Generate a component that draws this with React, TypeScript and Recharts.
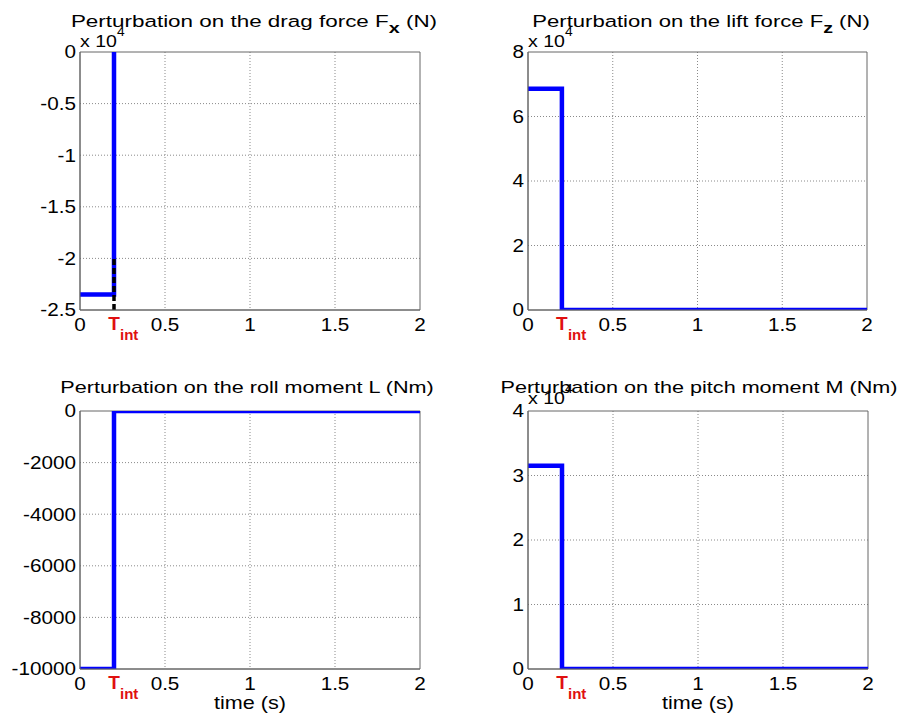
import React from 'react';
import { LineChart, Line, XAxis, YAxis, CartesianGrid, ReferenceArea } from 'recharts';

// ---- data ----
const T_INT = 0.2;
const X_TICKS = [0, T_INT, 0.5, 1, 1.5, 2];
const X_GRID = [0.5, 1, 1.5];

const TIME_DRAG = [0, 0.2, 0.2];
const DRAG = [-23500, -23500, 0];
const TIME_MARK = [0.2, 0.2];
const MARK = [-25000, -20000];

const TIME_STEP = [0, 0.2, 0.2, 2];
const LIFT = [68600, 68600, 0, 0];
const ROLL = [-10000, -10000, 0, 0];
const PITCH = [31500, 31500, 0, 0];

const DRAG_TICKS = [-25000, -20000, -15000, -10000, -5000, 0];
const LIFT_TICKS = [0, 20000, 40000, 60000, 80000];
const ROLL_TICKS = [-10000, -8000, -6000, -4000, -2000, 0];
const PITCH_TICKS = [0, 10000, 20000, 30000, 40000];

const TITLES = [
  'Perturbation on the drag force F',
  'Perturbation on the lift force F',
  'Perturbation on the roll moment L (Nm)',
  'Perturbation on the pitch moment M (Nm)',
];
const X_LABEL = 'time (s)';

const toRows = (t: number[], v: number[]) => t.map((x, i) => ({ t: x, v: v[i] }));

const FONT = '"Liberation Sans", Arial, Helvetica, sans-serif';
const SX = 1.15;

const XTick = (props: any) => {
  const { x, y, payload } = props;
  if (Math.abs(payload.value - T_INT) < 1e-9) {
    return (
      <g>
        <text x={x} y={y + 20} textAnchor="middle" fontFamily={FONT} fontWeight="bold" fontSize={19} fill="#e01010">T</text>
        <text x={x + 6} y={y + 30} textAnchor="start" fontFamily={FONT} fontWeight="bold" fontSize={15} fill="#e01010">int</text>
      </g>
    );
  }
  const lbl = String(payload.value);
  return (
    <text transform={`translate(${x},${y + 20.5}) scale(${SX},1)`} textAnchor="middle" fontFamily={FONT} fontSize={18} fill="#000">{lbl}</text>
  );
};

const makeYTick = (div: number) => (props: any) => {
  const { x, y, payload } = props;
  const lbl = String(Math.round((payload.value / div) * 1000) / 1000);
  return (
    <text transform={`translate(${x - 4},${y}) scale(${SX},1)`} dy="0.36em" textAnchor="end" fontFamily={FONT} fontSize={18} fill="#000">{lbl}</text>
  );
};

type PanelProps = {
  left: number; top: number; width: number; height: number;
  mLeft: number; mRight: number;
  rows: { t: number; v: number }[];
  domain: [number, number];
  ticks: number[];
  div: number;
  extra?: { t: number; v: number }[];
};

const Panel = ({ left, top, width, height, mLeft, mRight, rows, domain, ticks, div, extra }: PanelProps) => (
  <div style={{ position: 'absolute', left, top, width, height }}>
    <LineChart width={width} height={height} margin={{ top: 52, right: mRight, left: mLeft, bottom: 19 }}>
      <CartesianGrid stroke="#8a8a8a" strokeDasharray="1 2" verticalValues={X_GRID} horizontalValues={ticks.slice(1, -1)} />
      <XAxis dataKey="t" type="number" domain={[0, 2]} ticks={X_TICKS} interval={0} allowDataOverflow
        height={30} tickSize={0} tickMargin={0} tickLine={false} axisLine={{ stroke: '#666' }} tick={<XTick />} />
      <YAxis dataKey="v" type="number" domain={domain} ticks={ticks} interval={0} allowDataOverflow
        width={60} tickSize={0} tickMargin={0} tickLine={false} axisLine={{ stroke: '#666' }} tick={makeYTick(div)} />
      <ReferenceArea x1={0} x2={2} y1={domain[0]} y2={domain[1]} fill="none" fillOpacity={0} stroke="#666" strokeWidth={1} />
      <Line data={rows} dataKey="v" type="linear" stroke="#0000ff" strokeWidth={4.5} dot={false} isAnimationActive={false} />
      {extra && (
        <Line data={extra} dataKey="v" type="linear" stroke="#000" strokeWidth={3.5} strokeDasharray="6 3" dot={false} isAnimationActive={false} />
      )}
    </LineChart>
  </div>
);

const Title = ({ cx, y, text, sub, tail, ts = 1.27 }: { cx: number; y: number; text: string; sub?: string; tail?: string; ts?: number }) => (
  <text transform={`translate(${cx},${y}) scale(${ts},1)`} textAnchor="middle" fontFamily={FONT} fontSize={17} fill="#000">
    {text}
    {sub && <tspan dy={6} fontSize={15} fontWeight="bold">{sub}</tspan>}
    {tail && <tspan dy={-6}>{tail}</tspan>}
  </text>
);

const Exp = ({ x, y }: { x: number; y: number }) => (
  <text transform={`translate(${x},${y}) scale(${SX},1)`} textAnchor="start" fontFamily={FONT} fontSize={17} fill="#000">
    x 10<tspan dy={-11} fontSize={12}>4</tspan>
  </text>
);

export default function App() {
  return (
    <div style={{ position: 'absolute', left: 0, top: 0, width: 901, height: 718, background: '#fff', overflow: 'hidden' }}>
      <Panel left={0} top={0} width={450} height={359} mLeft={20} mRight={30}
        rows={toRows(TIME_DRAG, DRAG)} domain={[-25000, 0]} ticks={DRAG_TICKS} div={10000} extra={toRows(TIME_MARK, MARK)} />
      <Panel left={450} top={0} width={451} height={359} mLeft={18} mRight={34}
        rows={toRows(TIME_STEP, LIFT)} domain={[0, 80000]} ticks={LIFT_TICKS} div={10000} />
      <Panel left={0} top={359} width={450} height={359} mLeft={20} mRight={30}
        rows={toRows(TIME_STEP, ROLL)} domain={[-10000, 0]} ticks={ROLL_TICKS} div={1} />
      <Panel left={450} top={359} width={451} height={359} mLeft={18} mRight={33}
        rows={toRows(TIME_STEP, PITCH)} domain={[0, 40000]} ticks={PITCH_TICKS} div={10000} />
      <svg width={901} height={718} style={{ position: 'absolute', left: 0, top: 0, pointerEvents: 'none' }}>
        <Title cx={254} y={27} text={TITLES[0]} sub="x" tail=" (N)" ts={1.32} />
        <Title cx={701} y={27} text={TITLES[1]} sub="z" tail=" (N)" ts={1.3} />
        <Title cx={247} y={393} text={TITLES[2]} />
        <Title cx={699} y={393} text={TITLES[3]} />
        <Exp x={80} y={47} />
        <Exp x={528} y={47} />
        <Exp x={528} y={404} />
        <text transform={`translate(250,709) scale(1.2,1)`} textAnchor="middle" fontFamily={FONT} fontSize={18}>{X_LABEL}</text>
        <text transform={`translate(698,709) scale(1.2,1)`} textAnchor="middle" fontFamily={FONT} fontSize={18}>{X_LABEL}</text>
      </svg>
    </div>
  );
}
